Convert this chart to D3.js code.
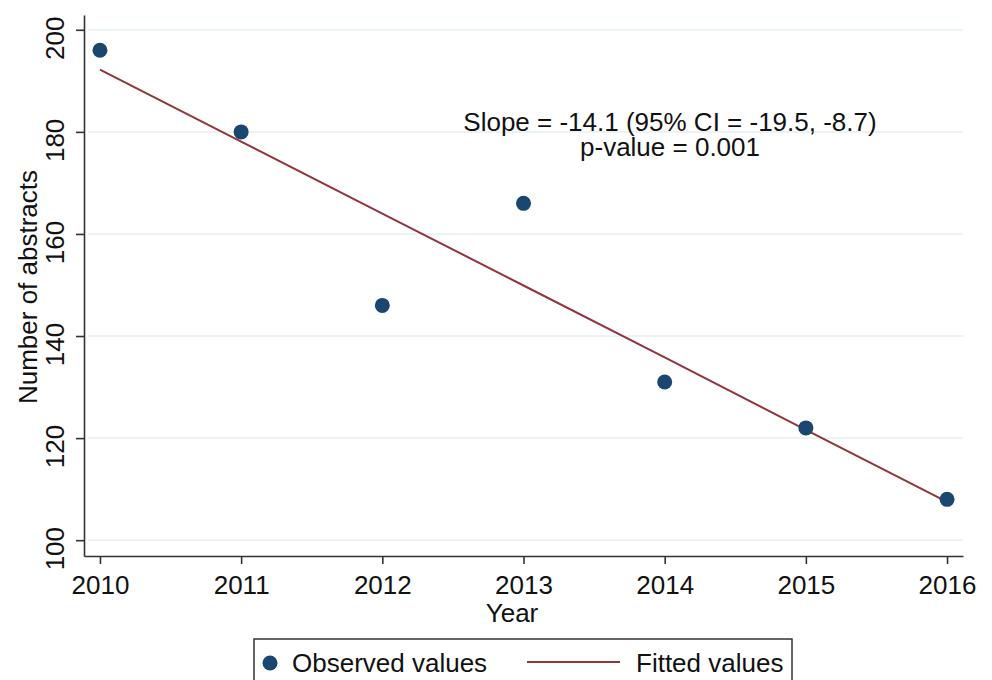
<!DOCTYPE html>
<meta charset="utf-8">
<head>
  <style>
    body { margin: 0; background: #fff; }
    svg { font-family: "Liberation Sans", Arial, sans-serif; }
    .grid line { stroke: #e6eff1; stroke-width: 1.5; }
    .axis path, .axis line { stroke: #333; stroke-width: 1.6; }
    .axis text { font-size: 26px; fill: #111; }
  </style>
</head>
<body>
  <script src="https://cdn.jsdelivr.net/npm/d3@7"></script>
  <div id="viz"></div>
  <script>
    // values
    var years = [2010, 2011, 2012, 2013, 2014, 2015, 2016];
    var observed = [196, 180, 146, 166, 131, 122, 108];
    var fitted = [192.2, 178.1, 164.0, 149.9, 135.8, 121.6, 107.5];
    var yTicks = [100, 120, 140, 160, 180, 200];
    var notes = ["Slope = -14.1 (95% CI = -19.5, -8.7)", "p-value = 0.001"];

    var config = { width: 992, height: 680 };

    var svg = d3.select("#viz").append("svg")
      .attr("width", config.width)
      .attr("height", config.height);

    var x = d3.scaleLinear().domain([2009.887, 2016.113]).range([84, 963]);
    var y = d3.scaleLinear().domain([96.9, 202.9]).range([556, 15]);

    // gridlines
    svg.append("g").attr("class", "grid")
      .selectAll("line").data(yTicks).enter().append("line")
      .attr("x1", 88).attr("x2", 963)
      .attr("y1", d => y(d)).attr("y2", d => y(d));

    // axes
    svg.append("g").attr("class", "axis")
      .attr("transform", "translate(0,556)")
      .call(d3.axisBottom(x).tickValues(years).tickFormat(d3.format("d")).tickSize(8).tickSizeOuter(0).tickPadding(12));

    var ya = svg.append("g").attr("class", "axis")
      .attr("transform", "translate(84,0)")
      .call(d3.axisLeft(y).tickValues(yTicks).tickSize(8).tickSizeOuter(0).tickPadding(0));
    ya.selectAll(".tick text")
      .attr("text-anchor", "middle")
      .attr("dy", 0)
      .attr("transform", "translate(-20,0) rotate(-90)");

    // fitted line
    var line = d3.line().x((d, i) => x(years[i])).y(d => y(d));
    svg.append("path")
      .datum(fitted)
      .attr("d", line)
      .attr("fill", "none")
      .attr("stroke", "#90353b")
      .attr("stroke-width", 2);

    // observed points
    svg.selectAll(".dot")
      .data(observed).enter().append("circle")
      .attr("class", "dot")
      .attr("cx", (d, i) => x(years[i]))
      .attr("cy", d => y(d))
      .attr("r", 7.5)
      .attr("fill", "#1a476f");

    // annotation
    svg.selectAll(".note")
      .data(notes).enter().append("text")
      .attr("class", "note")
      .attr("x", 670)
      .attr("y", (d, i) => 131 + i * 25)
      .attr("text-anchor", "middle")
      .attr("font-size", 26)
      .attr("fill", "#111")
      .text(d => d);

    // axis titles
    svg.append("text")
      .attr("x", 512).attr("y", 622)
      .attr("text-anchor", "middle")
      .attr("font-size", 26).attr("fill", "#111")
      .text("Year");

    svg.append("text")
      .attr("transform", "translate(37,287) rotate(-90)")
      .attr("text-anchor", "middle")
      .attr("font-size", 26).attr("fill", "#111")
      .text("Number of abstracts");

    // legend
    var lg = svg.append("g");
    lg.append("rect")
      .attr("x", 254).attr("y", 639)
      .attr("width", 538).attr("height", 60)
      .attr("fill", "#fff").attr("stroke", "#333").attr("stroke-width", 1.5);
    lg.append("circle")
      .attr("cx", 270).attr("cy", 663).attr("r", 7.5).attr("fill", "#1a476f");
    lg.append("text")
      .attr("x", 292).attr("y", 672)
      .attr("font-size", 26).attr("fill", "#111")
      .text("Observed values");
    lg.append("line")
      .attr("x1", 527).attr("x2", 620).attr("y1", 662).attr("y2", 662)
      .attr("stroke", "#90353b").attr("stroke-width", 2);
    lg.append("text")
      .attr("x", 636).attr("y", 672)
      .attr("font-size", 26).attr("fill", "#111")
      .text("Fitted values");
  </script>
</body>
